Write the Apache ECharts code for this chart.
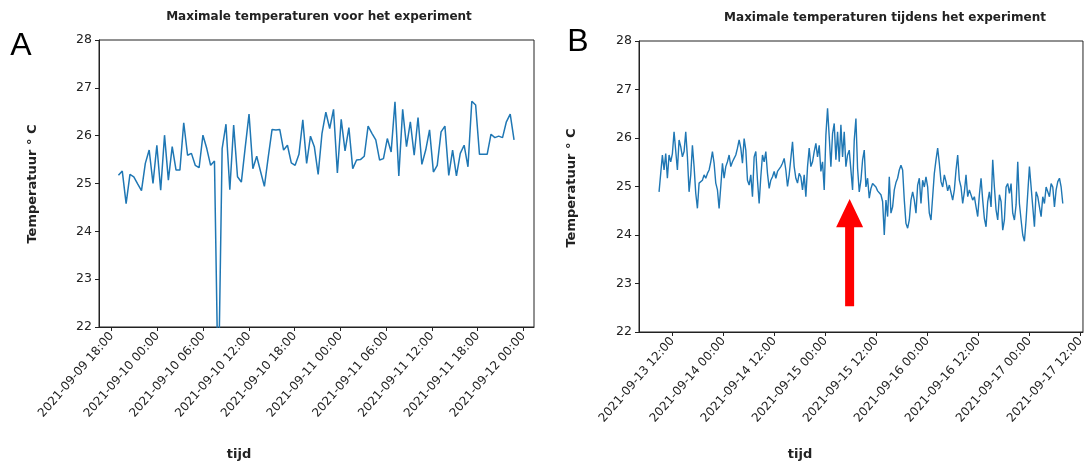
<!DOCTYPE html>
<html>
<head>
<meta charset="utf-8">
<script src="https://cdn.jsdelivr.net/npm/echarts@6/dist/echarts.min.js"></script>
<style>
  html, body { margin: 0; padding: 0; background: #ffffff; }
  #chart { width: 1087px; height: 466px; }
</style>
</head>
<body>
<div id="chart"></div>
<script>
// ---- Measurement data (times are UTC, "YYYY-MM-DD HH:MM") ----

// Run before the experiment: first and last reading, evenly sampled in between
const beforeStart = '2021-09-09 18:53';
const beforeEnd = '2021-09-11 22:47';
const beforeTemps = [
  25.17, 25.26, 24.58, 25.19, 25.14, 24.99, 24.85, 25.42, 25.70, 25.00,
  25.80, 24.86, 26.01, 25.07, 25.77, 25.28, 25.28, 26.27, 25.59, 25.63,
  25.38, 25.33, 26.01, 25.73, 25.38, 25.47, 20.50, 25.73, 26.24, 24.87,
  26.22, 25.14, 25.03, 25.75, 26.45, 25.31, 25.57, 25.25, 24.94, 25.55,
  26.13, 26.12, 26.13, 25.70, 25.80, 25.43, 25.38, 25.61, 26.33, 25.42,
  25.99, 25.77, 25.19, 26.05, 26.49, 26.15, 26.55, 25.22, 26.34, 25.68,
  26.17, 25.31, 25.49, 25.50, 25.57, 26.20, 26.05, 25.91, 25.49, 25.52,
  25.94, 25.66, 26.71, 25.16, 26.55, 25.77, 26.29, 25.59, 26.38, 25.40,
  25.70, 26.12, 25.24, 25.38, 26.08, 26.20, 25.17, 25.70, 25.16, 25.63,
  25.80, 25.35, 26.72, 26.64, 25.61, 25.61, 25.61, 26.03, 25.96, 25.99,
  25.96, 26.29, 26.45, 25.91
];

// Run during the experiment
const duringStart = '2021-09-13 08:51';
const duringEnd = '2021-09-17 07:50';
const duringTemps = [
  24.89, 25.27, 25.65, 25.34, 25.68, 25.17, 25.65, 25.51, 25.68, 26.13,
  26.09, 25.34, 25.96, 25.82, 25.61, 25.72, 26.13, 25.61, 24.89, 25.24,
  25.85, 25.41, 24.86, 24.55, 25.07, 25.03, 25.13, 25.24, 25.17, 25.27,
  25.34, 25.51, 25.72, 25.48, 25.07, 24.93, 24.55, 25.00, 25.48, 25.17,
  25.41, 25.51, 25.65, 25.41, 25.51, 25.58, 25.65, 25.79, 25.96, 25.79,
  25.48, 25.99, 25.75, 25.13, 25.03, 25.24, 24.79, 25.61, 25.72, 25.13,
  24.65,
  25.20, 25.65, 25.51, 25.72, 25.27, 24.96, 25.13, 25.20, 25.31, 25.17,
  25.31, 25.27, 25.41, 25.48, 25.58, 25.34, 25.00, 25.24, 25.58, 25.92,
  25.41, 25.17, 25.07, 25.27, 25.20, 24.93, 25.24, 24.79, 25.41, 25.79,
  25.41, 25.51, 25.72, 25.89, 25.61, 25.85, 25.31, 25.51, 24.93, 26.06,
  26.61, 26.03, 25.41, 26.09, 26.30, 25.55, 26.13, 25.51, 26.27, 25.61,
  26.13, 25.41, 25.65, 25.75, 25.72, 24.93, 25.96, 26.40, 25.37,
  24.89, 25.13, 25.55, 25.75, 24.99, 25.17, 24.76, 24.96, 25.06, 25.03,
  24.99, 24.91, 24.94, 24.83, 24.69, 24.00, 24.72, 24.38, 25.20, 24.45,
  24.58, 24.93, 25.08, 25.17, 25.34, 25.44, 25.34, 24.72, 24.24, 24.14,
  24.31, 24.72, 24.89, 24.72, 24.45, 25.03, 25.17, 24.65, 25.13, 24.99,
  25.20, 24.99, 24.45, 24.31, 24.79, 25.27, 25.55, 25.79, 25.48, 25.10,
  24.99, 25.24, 25.10, 24.91, 25.03, 25.06, 24.72, 24.93, 25.34, 25.65,
  25.13, 24.99, 24.65, 24.89, 25.24, 24.79, 24.93, 24.96, 24.72, 24.79,
  24.58, 24.38, 24.83, 25.17, 24.72, 24.34, 24.17, 24.69, 24.89, 24.58,
  25.55, 24.99, 24.52, 24.31, 24.83, 24.69, 24.10, 24.31, 24.99, 25.06,
  24.86, 25.06, 24.45, 24.31, 24.62, 25.51, 24.65, 24.31, 24.00, 23.87,
  24.31, 24.86, 25.41, 25.44, 24.58, 24.17, 24.89, 24.79, 24.58, 24.38,
  24.79, 24.65, 24.99, 24.89, 24.79, 25.06, 24.99, 24.58, 24.93, 25.10,
  25.17, 24.99, 24.65
];

// Axis ticks and ranges
const beforeTicks = [
  '2021-09-09 18:00', '2021-09-10 00:00', '2021-09-10 06:00', '2021-09-10 12:00',
  '2021-09-10 18:00', '2021-09-11 00:00', '2021-09-11 06:00', '2021-09-11 12:00',
  '2021-09-11 18:00', '2021-09-12 00:00'
];
const duringTicks = [
  '2021-09-13 12:00', '2021-09-14 00:00', '2021-09-14 12:00', '2021-09-15 00:00',
  '2021-09-15 12:00', '2021-09-16 00:00', '2021-09-16 12:00', '2021-09-17 00:00',
  '2021-09-17 12:00'
];
const beforeRange = ['2021-09-09 16:20', '2021-09-12 01:24'];
const duringRange = ['2021-09-13 04:08', '2021-09-17 12:35'];
const tempTicks = [22, 23, 24, 25, 26, 27, 28];

// Annotation: moment the change starts, arrow from 22.53 up to 24.74 °C
const arrowTime = '2021-09-15 05:41';
const arrowTail = 22.53, arrowHeadBase = 24.16, arrowTip = 24.74;

// ---- Helpers ----
function parseUtc(s) {
  const [d, t] = s.split(' ');
  const [y, mo, da] = d.split('-').map(Number);
  const [h, mi] = t.split(':').map(Number);
  return Date.UTC(y, mo - 1, da, h, mi);
}
function pad(n) { return String(n).padStart(2, '0'); }
function fmtUtc(ms) {
  const d = new Date(ms);
  return d.getUTCFullYear() + '-' + pad(d.getUTCMonth() + 1) + '-' + pad(d.getUTCDate()) +
    ' ' + pad(d.getUTCHours()) + ':' + pad(d.getUTCMinutes());
}
function series(startStr, endStr, temps) {
  const t0 = parseUtc(startStr), t1 = parseUtc(endStr);
  const step = (t1 - t0) / (temps.length - 1);
  return temps.map((v, i) => [t0 + i * step, v]);
}

const FONT = '"DejaVu Sans", Verdana, sans-serif';
const INK = '#222222';
const BLUE = '#1f77b4';

function xAxisFor(gridIndex, ticks, range) {
  const vals = ticks.map(parseUtc);
  return {
    type: 'value', gridIndex,
    min: parseUtc(range[0]), max: parseUtc(range[1]),
    axisLine: { show: true, lineStyle: { color: INK, width: 1 } },
    axisTick: { show: true, customValues: vals, length: 4, lineStyle: { color: INK } },
    axisLabel: {
      customValues: vals, rotate: 49, margin: 7,
      color: INK, fontFamily: FONT, fontSize: 12,
      formatter: v => fmtUtc(v)
    },
    splitLine: { show: false }
  };
}
function yAxisFor(gridIndex) {
  return {
    type: 'value', gridIndex, min: 22, max: 28, interval: 1,
    axisLine: { show: true, lineStyle: { color: INK, width: 1 } },
    axisTick: { show: true, length: 4, lineStyle: { color: INK } },
    axisLabel: { color: INK, fontFamily: FONT, fontSize: 12.5, margin: 7,
      formatter: v => tempTicks.includes(v) ? String(v) : '' },
    splitLine: { show: false }
  };
}

const chart = echarts.init(document.getElementById('chart'), null, { renderer: 'canvas' });

const gridBox = { show: true, borderColor: INK, borderWidth: 1, backgroundColor: 'transparent' };

chart.setOption({
  animation: false,
  backgroundColor: '#ffffff',
  grid: [
    Object.assign({ left: 99, top: 40, width: 435, height: 287 }, gridBox),
    Object.assign({ left: 639, top: 41, width: 444, height: 291 }, gridBox)
  ],
  xAxis: [xAxisFor(0, beforeTicks, beforeRange), xAxisFor(1, duringTicks, duringRange)],
  yAxis: [yAxisFor(0), yAxisFor(1)],
  series: [
    {
      type: 'line', xAxisIndex: 0, yAxisIndex: 0,
      data: series(beforeStart, beforeEnd, beforeTemps),
      showSymbol: false, clip: true,
      lineStyle: { color: BLUE, width: 1.5 }
    },
    {
      type: 'line', xAxisIndex: 1, yAxisIndex: 1,
      data: series(duringStart, duringEnd, duringTemps),
      showSymbol: false, clip: true,
      lineStyle: { color: BLUE, width: 1.4 }
    }
  ]
});

// Red arrow placed through the right-hand axes
const at = parseUtc(arrowTime);
const pTail = chart.convertToPixel({ gridIndex: 1 }, [at, arrowTail]);
const pBase = chart.convertToPixel({ gridIndex: 1 }, [at, arrowHeadBase]);
const pTip = chart.convertToPixel({ gridIndex: 1 }, [at, arrowTip]);
const shaftHalf = 4.5, headHalf = 13.5;
const cx = pTip[0];

const txt = (x, y, text, opts) => ({
  type: 'text', x, y,
  style: Object.assign({ text, fill: INK, fontFamily: FONT, align: 'center', verticalAlign: 'middle' }, opts)
});

chart.setOption({
  graphic: [
    // panel letters
    txt(21, 46, 'A', { fontSize: 32, fill: '#000', fontFamily: '"Liberation Sans", Arial, sans-serif' }),
    txt(578, 42, 'B', { fontSize: 32, fill: '#000', fontFamily: '"Liberation Sans", Arial, sans-serif' }),
    // titles
    txt(319, 17, 'Maximale temperaturen voor het experiment', { fontSize: 12, fontWeight: 'bold' }),
    txt(885, 18, 'Maximale temperaturen tijdens het experiment', { fontSize: 12, fontWeight: 'bold' }),
    // axis names
    Object.assign(txt(33, 184, 'Temperatuur ° C', { fontSize: 13, fontWeight: 'bold' }), { rotation: Math.PI / 2 }),
    Object.assign(txt(572, 188, 'Temperatuur ° C', { fontSize: 13, fontWeight: 'bold' }), { rotation: Math.PI / 2 }),
    txt(239, 455, 'tijd', { fontSize: 13, fontWeight: 'bold' }),
    txt(800, 455, 'tijd', { fontSize: 13, fontWeight: 'bold' }),
    // arrow
    {
      type: 'polygon',
      shape: {
        points: [
          [cx - shaftHalf, pTail[1]], [cx + shaftHalf, pTail[1]],
          [cx + shaftHalf, pBase[1]], [cx + headHalf, pBase[1]],
          [cx, pTip[1]],
          [cx - headHalf, pBase[1]], [cx - shaftHalf, pBase[1]]
        ]
      },
      style: { fill: '#ff0000' },
      z: 10
    }
  ]
});
</script>
</body>
</html>
